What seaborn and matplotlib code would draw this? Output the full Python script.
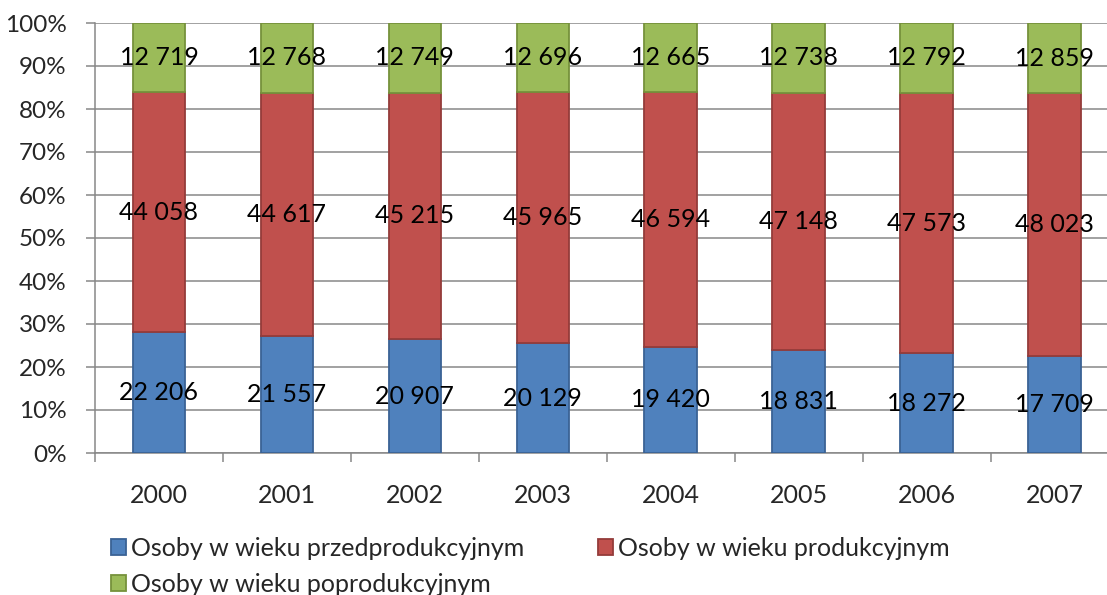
import matplotlib
matplotlib.use("Agg")
import matplotlib.pyplot as plt
import matplotlib.patches as mpatches
from matplotlib.ticker import FixedLocator, PercentFormatter
import seaborn as sns
import pandas as pd
import numpy as np

years = ["2000", "2001", "2002", "2003", "2004", "2005", "2006", "2007"]
pre = [22206, 21557, 20907, 20129, 19420, 18831, 18272, 17709]
prod = [44058, 44617, 45215, 45965, 46594, 47148, 47573, 48023]
post = [12719, 12768, 12749, 12696, 12665, 12738, 12792, 12859]
series_names = ["Osoby w wieku przedprodukcyjnym", "Osoby w wieku produkcyjnym",
                "Osoby w wieku poprodukcyjnym"]

colors = ["#4F81BD", "#C0504D", "#9BBB59"]
edges = ["#3A6295", "#943C3A", "#76923C"]

sns.set_theme(style="white")
plt.rcParams['font.family'] = ['Lato', 'DejaVu Sans']
FS = 18

df = pd.DataFrame({"year": years, "pre": pre, "prod": prod, "post": post})
total = df[["pre", "prod", "post"]].sum(axis=1)
shares = {k: df[k] / total * 100 for k in ["pre", "prod", "post"]}

fig = plt.figure(figsize=(11.07, 5.95), dpi=100)
ax = fig.add_axes([95/1107, 1 - 453/595, 1 - 95/1107, (453 - 23)/595])

bottom = np.zeros(len(years))
for key, col, ec, raw in zip(["pre", "prod", "post"], colors, edges, [pre, prod, post]):
    vals = shares[key].values
    sns.barplot(x=df["year"], y=vals, bottom=bottom, color=col, edgecolor=ec,
                linewidth=1.3, width=0.41, ax=ax, saturation=1, zorder=3)
    for i, (v, b, r) in enumerate(zip(vals, bottom, raw)):
        ax.text(i, b + v / 2, f"{r:,}".replace(",", " "), ha="center", va="center",
                fontsize=FS, color="black", zorder=5)
    bottom = bottom + vals

ax.set_xlim(-0.5, 7.41)
ax.set_ylim(0, 100)
ax.set_yticks(np.arange(0, 101, 10))
ax.yaxis.set_major_formatter(PercentFormatter(decimals=0))
ax.grid(axis="y", color="#878787", linewidth=1.1, zorder=0)
ax.set_axisbelow(True)
for s in ["top", "right"]:
    ax.spines[s].set_visible(False)
for s in ["left", "bottom"]:
    ax.spines[s].set_color("#878787")
    ax.spines[s].set_linewidth(1.1)
ax.set_xlabel("")
ax.set_ylabel("")
ax.tick_params(axis="y", which="major", length=6.5, width=1.1, color="#878787",
               pad=14, labelsize=FS - 0.5, direction="out", left=True)
ax.tick_params(axis="x", which="major", length=0, pad=22, labelsize=FS)
ax.xaxis.set_minor_locator(FixedLocator(np.arange(-0.5, 7.0, 1.0)))
ax.tick_params(axis="x", which="minor", length=6.5, width=1.1, color="#878787",
               direction="out", bottom=True)

handles = [mpatches.Patch(facecolor=c, edgecolor=e, linewidth=1.3, label=n)
           for c, e, n in zip(colors, edges, series_names)]
# row-major order: (pre, prod) on first row, post on second
order = [0, 2, 1]
leg = fig.legend(handles=[handles[i] for i in order], loc="upper left",
                 bbox_to_anchor=(111/1107, 1 - 537/595),
                 ncol=2, frameon=False, fontsize=FS, handlelength=0.6, handleheight=0.6,
                 handletextpad=0.2, columnspacing=2.95, labelspacing=0.5, borderpad=0,
                 borderaxespad=0)

fig.savefig("out.png", dpi=100)
